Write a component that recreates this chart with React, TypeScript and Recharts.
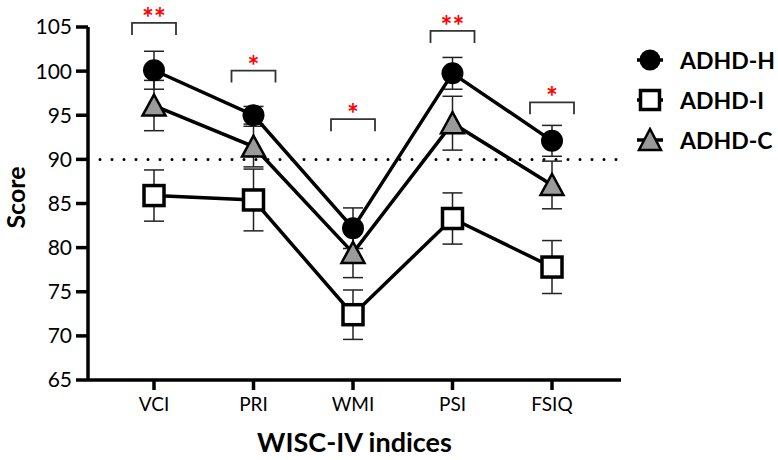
import React from "react";
import {
  ErrorBar,
  Label,
  Line,
  LineChart,
  ReferenceLine,
  XAxis,
  YAxis,
} from "recharts";

const indices = ["VCI", "PRI", "WMI", "PSI", "FSIQ"];

const adhdH = [100.1, 95.0, 82.2, 99.75, 92.1];
const adhdHErr = [2.15, 1.0, 2.3, 1.8, 1.75];

const adhdI = [85.9, 85.4, 72.4, 83.3, 77.8];
const adhdIErr = [2.9, 3.5, 2.8, 2.9, 3.0];

const adhdC = [96.1, 91.45, 79.4, 94.1, 87.1];
const adhdCErr = [2.85, 2.3, 2.8, 3.05, 2.7];

// significance brackets: height of the bracket legs and the stars shown
const sigY = [104.1, 98.7, 93.2, 103.2, 95.1];
const sigStars = ["**", "*", "*", "**", "*"];

const yTicks = [65, 70, 75, 80, 85, 90, 95, 100, 105];
const cutoff = 90;

const data = indices.map((name, i) => ({
  name,
  h: adhdH[i],
  hErr: adhdHErr[i],
  i: adhdI[i],
  iErr: adhdIErr[i],
  c: adhdC[i],
  cErr: adhdCErr[i],
  sig: sigY[i],
  stars: sigStars[i],
}));

const FONT = "Lato, 'DejaVu Sans', sans-serif";

const CircleDot = (props: any) => {
  const { cx, cy, index } = props;
  return <circle key={`h-${index}`} cx={cx} cy={cy} r={11} fill="#000" />;
};

const SquareDot = (props: any) => {
  const { cx, cy, index } = props;
  return (
    <rect
      key={`i-${index}`}
      x={cx - 10}
      y={cy - 10}
      width={20}
      height={20}
      fill="#fff"
      stroke="#000"
      strokeWidth={3.5}
    />
  );
};

const TriangleDot = (props: any) => {
  const { cx, cy, index } = props;
  return (
    <polygon
      key={`c-${index}`}
      points={`${cx},${cy - 11} ${cx - 11.5},${cy + 10} ${cx + 11.5},${cy + 10}`}
      fill="#9a9a9a"
      stroke="#000"
      strokeWidth={2.5}
    />
  );
};

const Bracket = (props: any) => {
  const { cx, cy, index, payload } = props;
  const hw = 22;
  return (
    <g key={`sig-${index}`}>
      <path
        d={`M${cx - hw},${cy} L${cx - hw},${cy - 12} L${cx + hw},${cy - 12} L${cx + hw},${cy}`}
        fill="none"
        stroke="#333"
        strokeWidth={1.8}
      />
      <text
        x={cx}
        y={cy - 7}
        textAnchor="middle"
        fill="#ff0000"
        fontSize={28}
        fontWeight="bold"
        fontFamily={FONT}
      >
        {payload.stars}
      </text>
    </g>
  );
};

const ScoreLabel = (props: any) => {
  const { viewBox } = props;
  const x = viewBox.x + 25;
  const y = viewBox.y + viewBox.height / 2 - 6;
  return (
    <text
      x={x}
      y={y}
      transform={`rotate(-90, ${x}, ${y})`}
      textAnchor="middle"
      fill="#000"
      fontSize={25}
      fontWeight="bold"
      fontFamily={FONT}
    >
      Score
    </text>
  );
};

const legendItems = [
  { label: "ADHD-H", kind: "circle" },
  { label: "ADHD-I", kind: "square" },
  { label: "ADHD-C", kind: "triangle" },
];

function LegendIcon({ kind }: { kind: string }) {
  return (
    <svg width={28} height={26} style={{ display: "block" }}>
      <line x1={1} y1={13} x2={27} y2={13} stroke="#000" strokeWidth={3.5} />
      {kind === "circle" && <circle cx={14} cy={13} r={10.5} fill="#000" />}
      {kind === "square" && (
        <rect x={4.5} y={3.5} width={19} height={19} fill="#fff" stroke="#000" strokeWidth={3.5} />
      )}
      {kind === "triangle" && (
        <polygon points="14,2 3,23 25,23" fill="#9a9a9a" stroke="#000" strokeWidth={2.5} />
      )}
    </svg>
  );
}

export default function App() {
  return (
    <div style={{ position: "absolute", left: 0, top: 0, width: 778, height: 460, background: "#fff" }}>
      <LineChart
        width={778}
        height={460}
        data={data}
        margin={{ top: 27, right: 157, bottom: 0, left: 0 }}
        style={{ fontFamily: FONT }}
      >
        <XAxis
          dataKey="name"
          padding={{ left: 66, right: 69 }}
          height={80}
          axisLine={{ stroke: "#000", strokeWidth: 3.5 }}
          tickLine={{ stroke: "#000", strokeWidth: 3.5 }}
          tickSize={10}
          tickMargin={8}
          tick={{ fill: "#000", fontSize: 19 }}
          label={{
            value: "WISC-IV indices",
            position: "insideBottom",
            offset: 8,
            fill: "#000",
            fontSize: 27,
            fontWeight: "bold",
          }}
        />
        <YAxis
          domain={[65, 105]}
          ticks={yTicks}
          width={88}
          axisLine={{ stroke: "#000", strokeWidth: 3.5 }}
          tickLine={{ stroke: "#000", strokeWidth: 3.5 }}
          tickSize={12}
          tickMargin={4}
          tick={{ fill: "#000", fontSize: 21 }}
        >
          <Label content={ScoreLabel} />
        </YAxis>
        <ReferenceLine
          y={cutoff}
          stroke="#000"
          strokeWidth={3}
          strokeDasharray="0 12"
          strokeLinecap="round"
        />
        <Line
          dataKey="i"
          stroke="#000"
          strokeWidth={3.5}
          dot={SquareDot}
          activeDot={false}
          isAnimationActive={false}
        >
          <ErrorBar dataKey="iErr" width={10} stroke="#222" strokeWidth={1.5} direction="y" />
        </Line>
        <Line
          dataKey="c"
          stroke="#000"
          strokeWidth={3.5}
          dot={TriangleDot}
          activeDot={false}
          isAnimationActive={false}
        >
          <ErrorBar dataKey="cErr" width={10} stroke="#222" strokeWidth={1.5} direction="y" />
        </Line>
        <Line
          dataKey="h"
          stroke="#000"
          strokeWidth={3.5}
          dot={CircleDot}
          activeDot={false}
          isAnimationActive={false}
        >
          <ErrorBar dataKey="hErr" width={10} stroke="#222" strokeWidth={1.5} direction="y" />
        </Line>
        <Line
          dataKey="sig"
          stroke="none"
          dot={Bracket}
          activeDot={false}
          legendType="none"
          isAnimationActive={false}
        />
      </LineChart>
      <div style={{ position: "absolute", left: 636, top: 40, width: 142, fontFamily: FONT }}>
        {legendItems.map((it) => (
          <div
            key={it.label}
            style={{ display: "flex", alignItems: "center", height: 40, whiteSpace: "nowrap" }}
          >
            <LegendIcon kind={it.kind} />
            <span
              style={{
                marginLeft: 16,
                fontSize: 23,
                fontWeight: "bold",
                color: "#000",
                lineHeight: "26px",
              }}
            >
              {it.label}
            </span>
          </div>
        ))}
      </div>
    </div>
  );
}
